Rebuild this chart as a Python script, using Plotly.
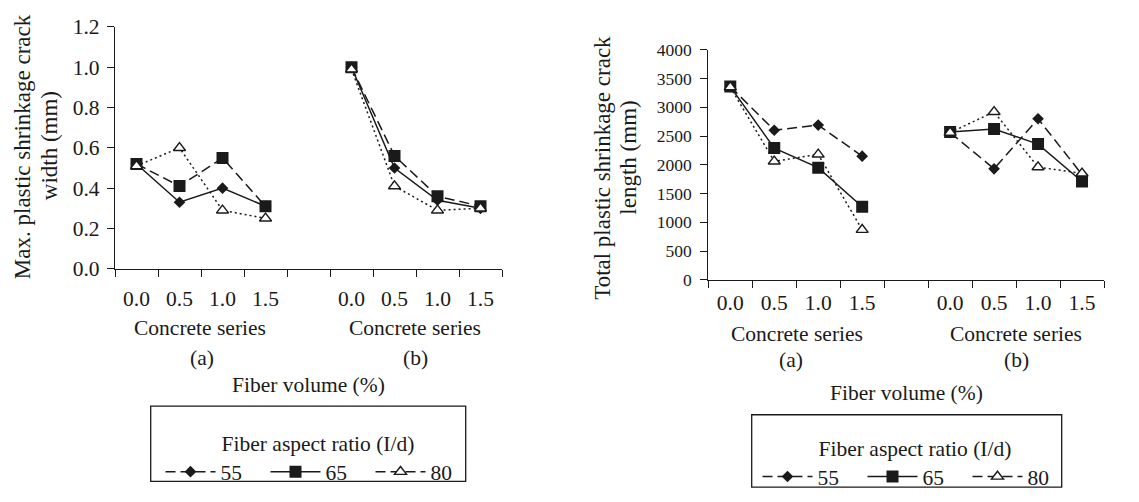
import plotly.graph_objects as go

# ---- data -------------------------------------------------------------
fiber_volume = ["0.0", "0.5", "1.0", "1.5"]
aspect_ratios = ["55", "65", "80"]

# Max. plastic shrinkage crack width (mm): series (a) and (b)
width_a_55 = [0.52, 0.33, 0.40, 0.31]
width_a_65 = [0.52, 0.41, 0.55, 0.31]
width_a_80 = [0.51, 0.60, 0.29, 0.25]
width_b_55 = [1.00, 0.50, 0.34, 0.30]
width_b_65 = [1.00, 0.56, 0.36, 0.31]
width_b_80 = [0.99, 0.41, 0.29, 0.30]

# Total plastic shrinkage crack length (mm): series (a) and (b)
length_a_55 = [3360, 2600, 2690, 2150]
length_a_65 = [3360, 2290, 1950, 1270]
length_a_80 = [3350, 2060, 2180, 870]
length_b_55 = [2560, 1930, 2800, 1830]
length_b_65 = [2570, 2620, 2360, 1710]
length_b_80 = [2560, 2920, 1960, 1850]

W, H = 1139, 502
FONT = "Liberation Serif"
INK = "#1a1a1a"
FS = 21.5

# category slots: 4 for series (a), an empty slot, 4 for series (b)
n = len(fiber_volume)
slots = list(range(2 * n + 1))
label_slots = slots[:n] + slots[n + 1:]
tick_labels = fiber_volume + fiber_volume
boundaries = [s - 0.5 for s in slots] + [slots[-1] + 0.5]


def px(x):
    return x / W


def py(y):
    return 1 - y / H


def join(a, b):
    return a + [None] + b


marker_style = {
    "55": dict(symbol="diamond", size=9, color=INK, line=dict(width=0)),
    "65": dict(symbol="square", size=12, color=INK, line=dict(width=0)),
    "80": dict(symbol="triangle-up", size=10.5, color="white",
               line=dict(width=1.4, color=INK)),
}
DASH = "10px,5px"
DOT = "2px,3px"

fig = go.Figure()

width_series = {"55": (width_a_55, width_b_55), "65": (width_a_65, width_b_65),
                "80": (width_a_80, width_b_80)}
length_series = {"55": (length_a_55, length_b_55), "65": (length_a_65, length_b_65),
                 "80": (length_a_80, length_b_80)}
width_dash = {"55": "solid", "65": DASH, "80": DOT}
length_dash = {"55": DASH, "65": "solid", "80": DOT}

for r in aspect_ratios:
    a, b = width_series[r]
    fig.add_trace(go.Scatter(
        x=slots, y=join(a, b), mode="lines+markers", connectgaps=False,
        line=dict(color=INK, width=1.5, dash=width_dash[r]),
        marker=marker_style[r], showlegend=False, xaxis="x", yaxis="y"))
for r in aspect_ratios:
    a, b = length_series[r]
    fig.add_trace(go.Scatter(
        x=slots, y=join(a, b), mode="lines+markers", connectgaps=False,
        line=dict(color=INK, width=1.5, dash=length_dash[r]),
        marker=marker_style[r], showlegend=False, xaxis="x2", yaxis="y2"))

# legend entries (one set for each panel)
legend_dash = {"55": DASH, "65": "solid", "80": DASH}
for lg in ("legend", "legend2"):
    for r in aspect_ratios:
        fig.add_trace(go.Scatter(
            x=[None], y=[None], mode="lines+markers", name=r, legend=lg,
            line=dict(color=INK, width=1.5, dash=legend_dash[r]),
            marker=marker_style[r], xaxis="x", yaxis="y"))

axis_common = dict(showline=True, linecolor=INK, linewidth=1.3, showgrid=False,
                   zeroline=False, tickfont=dict(family=FONT, size=FS, color=INK))

xcommon = dict(axis_common, range=[-0.5, slots[-1] + 0.5], tickmode="array",
               tickvals=label_slots, ticktext=tick_labels, ticks="",
               minor=dict(tickmode="array", tickvals=boundaries, ticks="outside",
                          ticklen=7, tickwidth=1.3, tickcolor=INK))

fig.update_layout(
    width=W, height=H, margin=dict(l=0, r=0, t=0, b=0),
    paper_bgcolor="white", plot_bgcolor="white",
    font=dict(family=FONT, size=FS, color=INK),
    xaxis=dict(xcommon, domain=[px(115), px(502)], anchor="y",
               ticklabelstandoff=10),
    yaxis=dict(axis_common, domain=[py(270.7), py(16.7)], range=[0, 1.2],
               dtick=0.2, tickformat=".1f", ticks="outside", ticklen=7,
               tickwidth=1.3, tickcolor=INK, anchor="x", ticklabelstandoff=3),
    xaxis2=dict(xcommon, domain=[px(708.3), px(1104)], anchor="y2",
                ticklabelstandoff=3),
    yaxis2=dict(axis_common, domain=[py(282.3), py(40.7)], range=[0, 4000],
                dtick=500, ticks="outside", ticklen=7, tickwidth=1.3,
                tickcolor=INK, anchor="x2", ticklabelstandoff=5,
                tickfont=dict(family=FONT, size=17.5, color=INK)),
)

legend_common = dict(
    orientation="h", xanchor="center", yanchor="top",
    title=dict(text="Fiber aspect ratio (I/d)", side="top center",
               font=dict(family=FONT, size=FS, color=INK)),
    font=dict(family=FONT, size=FS, color=INK),
    bgcolor="rgba(0,0,0,0)", borderwidth=0, itemwidth=50,
    entrywidth=40, entrywidthmode="pixels", itemclick=False,
)
fig.update_layout(
    legend=dict(legend_common, x=px(318), y=py(433)),
    legend2=dict(legend_common, x=px(915), y=py(438)),
)

# legend frames
for x0, y0, x1, y1 in [(150.7, 415, 465.7, 494), (751.7, 424, 1061.7, 500)]:
    fig.add_shape(type="rect", xref="paper", yref="paper",
                  x0=px(x0), x1=px(x1), y0=py(y1), y1=py(y0),
                  line=dict(color=INK, width=1.3), fillcolor="rgba(0,0,0,0)")

texts = [
    ("Concrete series", 200.5, 333, FS, 0),
    ("Concrete series", 415, 333, FS, 0),
    ("(a)", 201.7, 364, FS, 0),
    ("(b)", 415.7, 364, FS, 0),
    ("Fiber volume (%)", 308, 393, FS, 0),
    ("Concrete series", 796.7, 339, FS, 0),
    ("Concrete series", 1016, 339, FS, 0),
    ("(a)", 790.7, 366.7, FS, 0),
    ("(b)", 1016.7, 366.7, FS, 0),
    ("Fiber volume (%)", 906, 401.7, FS, 0),
    ("Max. plastic shrinkage crack", 22, 143, 23, -90),
    ("width (mm)", 49, 142, 23, -90),
    ("Total plastic shrinkage crack", 601.7, 165, 23, -90),
    ("length (mm)", 629, 154, 23, -90),
]
for t, x, y, s, ang in texts:
    fig.add_annotation(text=t, x=px(x), y=py(y), xref="paper", yref="paper",
                       xanchor="center", yanchor="middle", showarrow=False,
                       textangle=ang, font=dict(family=FONT, size=s, color=INK))

fig.write_html("out.html")
